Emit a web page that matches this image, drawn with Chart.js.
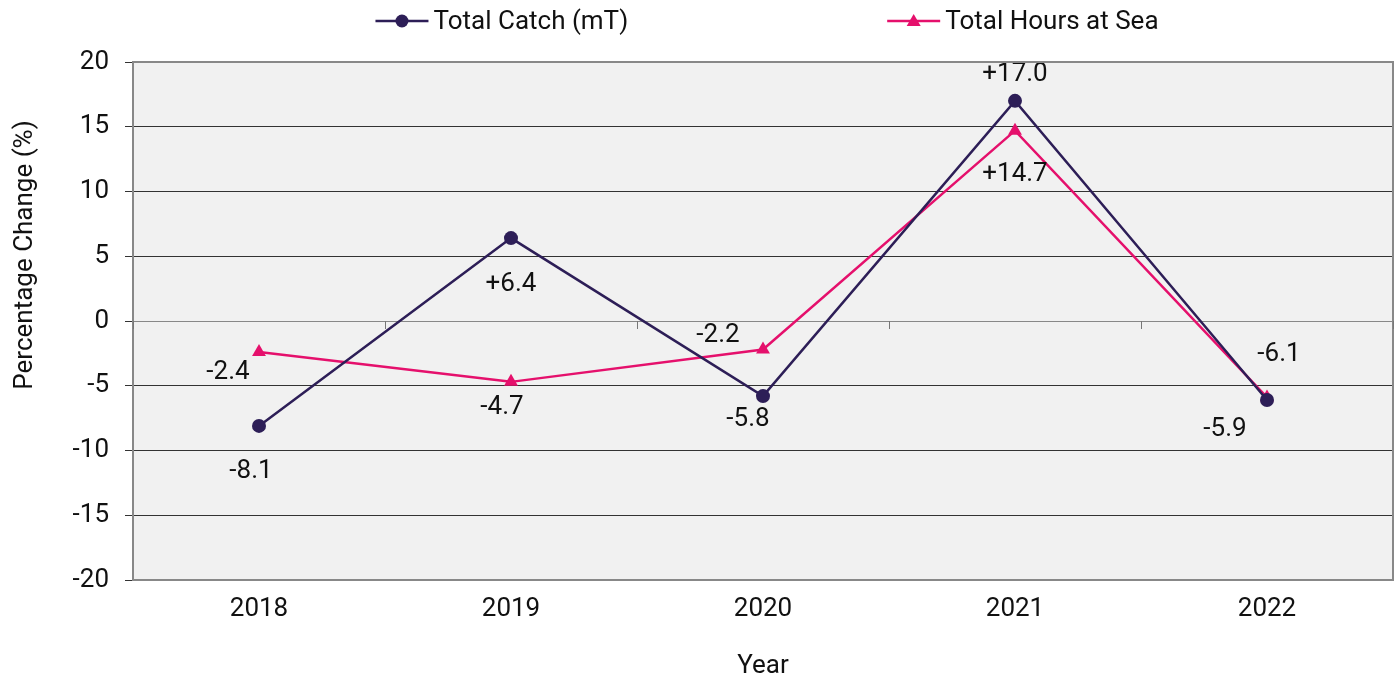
<!DOCTYPE html>
<html>
<head>
<meta charset="utf-8">
<script src="https://cdn.jsdelivr.net/npm/chart.js@4.4.1/dist/chart.umd.min.js"></script>
<style>
  html, body { margin: 0; padding: 0; background: #fff; }
  #wrap { width: 1395px; height: 679px; position: relative; }
</style>
</head>
<body>
<div id="wrap"><canvas id="chart"></canvas></div>
<script>
// Chart data
const years = ['2018', '2019', '2020', '2021', '2022'];
const totalCatch = [-8.1, 6.4, -5.8, 17.0, -6.1];
const totalHours = [-2.4, -4.7, -2.2, 14.7, -5.9];
const yTicks = [20, 15, 10, 5, 0, -5, -10, -15, -20];

const FONT = 'Roboto, "Noto Sans", sans-serif';
const FONT_SIZE = 26;
const CATCH_COLOR = '#2d1e57';
const HOURS_COLOR = '#e5106c';

// label offsets (px) relative to each point, per series
const labelOffsets = [
  [[-8, 46], [0, 46], [-15, 23], [0, -26], [12, -45]],
  [[-31, 20], [-9, 26], [-45, -14], [0, 44], [-42, 32]]
];

const fmt = v => (v > 0 ? '+' : '') + v.toFixed(1);

// plot background + border + small x ticks on the zero line
const plotFrame = {
  id: 'plotFrame',
  beforeDraw(chart) {
    const { ctx, chartArea: a } = chart;
    ctx.save();
    ctx.fillStyle = '#f1f1f1';
    ctx.fillRect(a.left, a.top, a.right - a.left, a.bottom - a.top);
    ctx.restore();
  },
  afterDraw(chart) {
    const { ctx, chartArea: a, scales } = chart;
    ctx.save();
    ctx.strokeStyle = '#888';
    ctx.lineWidth = 2;
    ctx.strokeRect(a.left, a.top, a.right - a.left, a.bottom - a.top);
    // category boundary ticks hanging off the zero line
    const y0 = scales.y.getPixelForValue(0);
    const step = scales.x.getPixelForValue(1) - scales.x.getPixelForValue(0);
    ctx.lineWidth = 1;
    ctx.strokeStyle = '#777';
    for (let i = 0; i <= years.length; i++) {
      const x = Math.round(scales.x.getPixelForValue(i) - step / 2) + 0.5;
      ctx.beginPath();
      ctx.moveTo(x, y0);
      ctx.lineTo(x, y0 + 8);
      ctx.stroke();
    }
    ctx.restore();
  }
};

// value labels next to points
const pointLabels = {
  id: 'pointLabels',
  afterDatasetsDraw(chart) {
    const { ctx } = chart;
    ctx.save();
    ctx.font = FONT_SIZE + 'px ' + FONT;
    ctx.fillStyle = '#111';
    ctx.textAlign = 'center';
    ctx.textBaseline = 'middle';
    chart.data.datasets.forEach((ds, di) => {
      chart.getDatasetMeta(di).data.forEach((pt, i) => {
        const [dx, dy] = labelOffsets[di][i];
        ctx.fillText(fmt(ds.data[i]), pt.x + dx, pt.y + dy);
      });
    });
    ctx.restore();
  }
};

// legend with line + marker, and the rotated y title
const topLegend = {
  id: 'topLegend',
  afterDraw(chart) {
    const { ctx, chartArea: a } = chart;
    ctx.save();
    ctx.font = FONT_SIZE + 'px ' + FONT;
    ctx.textBaseline = 'middle';
    const lineLen = 53, textGap = 5, itemGap = 259;
    const items = chart.data.datasets.map(ds => ({
      ds, w: lineLen + textGap + ctx.measureText(ds.label).width
    }));
    const total = items.reduce((s, it) => s + it.w, 0) + itemGap * (items.length - 1);
    let x = (a.left + a.right) / 2 + 4 - total / 2;
    const y = 21;
    items.forEach(it => {
      const c = it.ds.borderColor;
      ctx.strokeStyle = c;
      ctx.lineWidth = 2.5;
      ctx.beginPath();
      ctx.moveTo(x, y);
      ctx.lineTo(x + lineLen, y);
      ctx.stroke();
      ctx.fillStyle = c;
      const cx = x + lineLen / 2;
      ctx.beginPath();
      if (it.ds.pointStyle === 'triangle') {
        ctx.moveTo(cx, y - 7);
        ctx.lineTo(cx + 7, y + 5);
        ctx.lineTo(cx - 7, y + 5);
        ctx.closePath();
      } else {
        ctx.arc(cx, y, 6.5, 0, Math.PI * 2);
      }
      ctx.fill();
      ctx.fillStyle = '#111';
      ctx.fillText(it.ds.label, x + lineLen + textGap, y + 1);
      x += it.w + itemGap;
    });
    // y axis title
    ctx.translate(25, 255);
    ctx.rotate(-Math.PI / 2);
    ctx.textAlign = 'center';
    ctx.fillText('Percentage Change (%)', 0, 0);
    ctx.restore();
  }
};

new Chart(document.getElementById('chart'), {
  type: 'line',
  data: {
    labels: years,
    datasets: [
      {
        label: 'Total Catch (mT)',
        data: totalCatch,
        borderColor: CATCH_COLOR,
        backgroundColor: CATCH_COLOR,
        borderWidth: 2.5,
        pointStyle: 'circle',
        pointRadius: 7,
        pointBorderWidth: 0,
        tension: 0
      },
      {
        label: 'Total Hours at Sea',
        data: totalHours,
        borderColor: HOURS_COLOR,
        backgroundColor: HOURS_COLOR,
        borderWidth: 2.5,
        pointStyle: 'triangle',
        pointRadius: 8,
        pointBorderWidth: 0,
        tension: 0
      }
    ]
  },
  options: {
    responsive: true,
    maintainAspectRatio: false,
    animation: false,
    layout: { autoPadding: false, padding: { left: 72, right: 2, top: 62, bottom: 0 } },
    scales: {
      x: {
        offset: true,
        grid: { display: false, drawTicks: false },
        border: { display: false },
        ticks: { color: '#111', font: { family: FONT, size: FONT_SIZE }, padding: 14 },
        title: { display: true, text: 'Year', color: '#111', font: { family: FONT, size: FONT_SIZE }, padding: { top: 21, bottom: -3 } },
        afterFit: s => { s.height = 99; }
      },
      y: {
        min: -20,
        max: 20,
        afterBuildTicks: s => { s.ticks = yTicks.map(v => ({ value: v })); },
        grid: {
          color: c => (c.tick && c.tick.value === 0 ? '#888' : (Math.abs(c.tick ? c.tick.value : 0) === 20 ? 'rgba(0,0,0,0)' : '#333')),
          tickColor: '#333',
          tickLength: 8
        },
        border: { display: false },
        ticks: { color: '#111', font: { family: FONT, size: FONT_SIZE }, padding: 16 },
        afterFit: s => { s.width = 61; }
      }
    },
    plugins: {
      legend: { display: false },
      tooltip: { enabled: false }
    }
  },
  plugins: [plotFrame, pointLabels, topLegend]
});
</script>
</body>
</html>
